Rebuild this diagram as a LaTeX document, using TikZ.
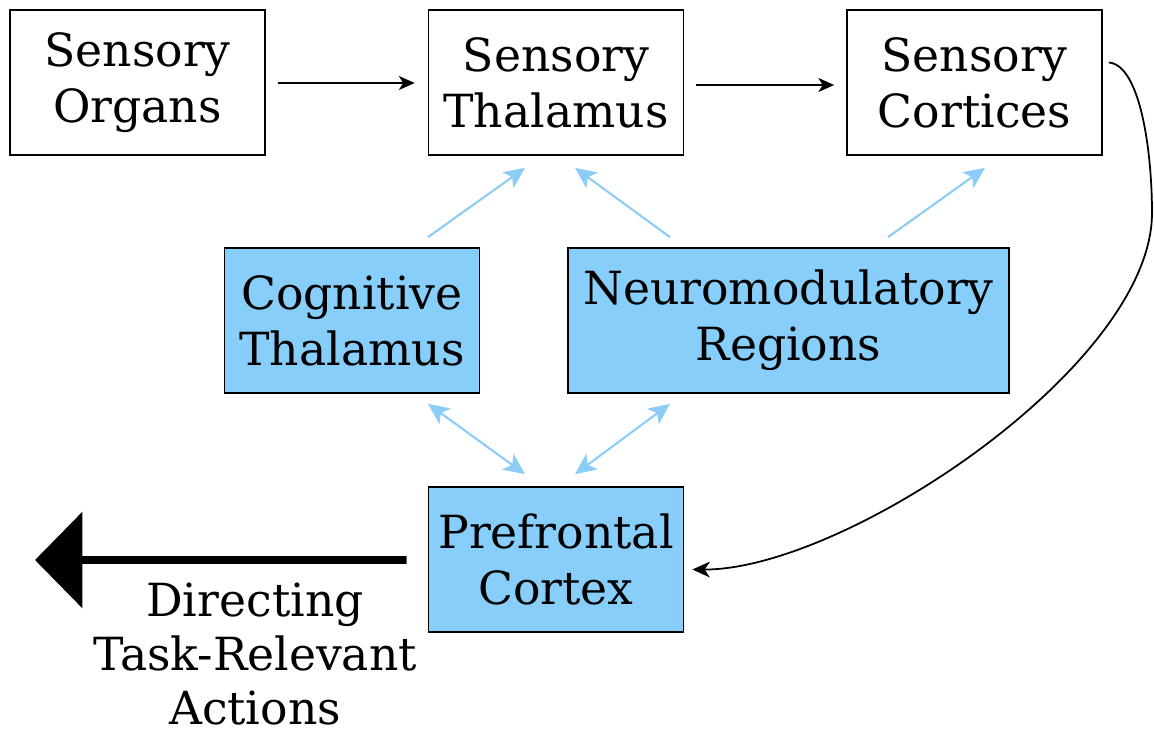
\documentclass[tikz,border=0pt]{standalone}
\usepackage{fontspec}
\setmainfont{DejaVu Serif}
\usetikzlibrary{arrows.meta,calc}
\definecolor{boxblue}{RGB}{135,206,250}
\definecolor{arrblue}{RGB}{140,205,248}
\tikzset{
  box/.style={draw=black, line width=1pt, minimum width=5.1cm, minimum height=2.9cm,
    align=center, inner sep=0pt, font=\fontsize{26}{32}\selectfont},
  bluebox/.style={box, fill=boxblue},
  blk/.style={draw=black, line width=0.9pt, -{Stealth[length=9pt,width=8pt,inset=2.5pt]}},
  blu/.style={draw=arrblue, line width=1.2pt, -{Stealth[length=12pt,width=11pt,inset=3pt]}},
  blu2/.style={draw=arrblue, line width=1.2pt, {Stealth[length=12pt,width=11pt,inset=3pt]}-{Stealth[length=12pt,width=11pt,inset=3pt]}},
  lbl/.style={align=center, inner sep=0pt, font=\fontsize{26}{31}\selectfont}
}
\begin{document}
\begin{tikzpicture}[x=0.02cm, y=-0.02cm]
\useasboundingbox (0,0) rectangle (1154,738);
\node[box] (org) at (137.5,82.5) {Sensory\\Organs};
\node[box] (thal) at (556,82.5) {Sensory\\Thalamus};
\node[box] (ctx) at (974.5,82.5) {Sensory\\Cortices};
\node[bluebox] (cog) at (352,320.5) {Cognitive\\Thalamus};
\node[bluebox, minimum width=8.82cm] (neu) at (788.5,320.5) {Neuromodulatory\\Regions};
\node[bluebox] (pfc) at (556,559.5) {Prefrontal\\Cortex};
\node[lbl] (act) at (255,654) {Directing\\Task-Relevant\\Actions};
\coordinate (tip) at (35,560);

\draw[blk] ($(org.east)+(12,0.5)$) -- ($(thal.west)+(-13,0.5)$);
\draw[blk] ($(thal.east)+(12,2.5)$) -- ($(ctx.west)+(-12,2.5)$);

\draw[blu] ($(cog.north)+(76,-10)$) -- ($(thal.south)+(-31,12)$);
\draw[blu] ($(neu.north)+(-118.5,-10)$) -- ($(thal.south)+(19,12)$);
\draw[blu] ($(neu.north)+(99.5,-10)$) -- ($(ctx.south)+(10.5,12)$);
\draw[blu2] ($(cog.south)+(76,10)$) -- ($(pfc.north)+(-31,-12)$);
\draw[blu2] ($(neu.south)+(-118.5,10)$) -- ($(pfc.north)+(19,-12)$);

\draw[line width=1pt, -{Stealth[length=10pt,width=9pt,inset=3pt]}]
  ($(ctx.east)+(6,-20)$) .. controls (1140,65) and (1152,150) .. (1152,213)
  .. controls (1152,365) and (845,570) .. ($(pfc.east)+(8,10)$);

\draw[line width=4.5pt, -{Triangle[length=27pt,width=54pt]}] ($(pfc.west)+(-21,0.5)$) -- (tip);
\end{tikzpicture}
\end{document}
